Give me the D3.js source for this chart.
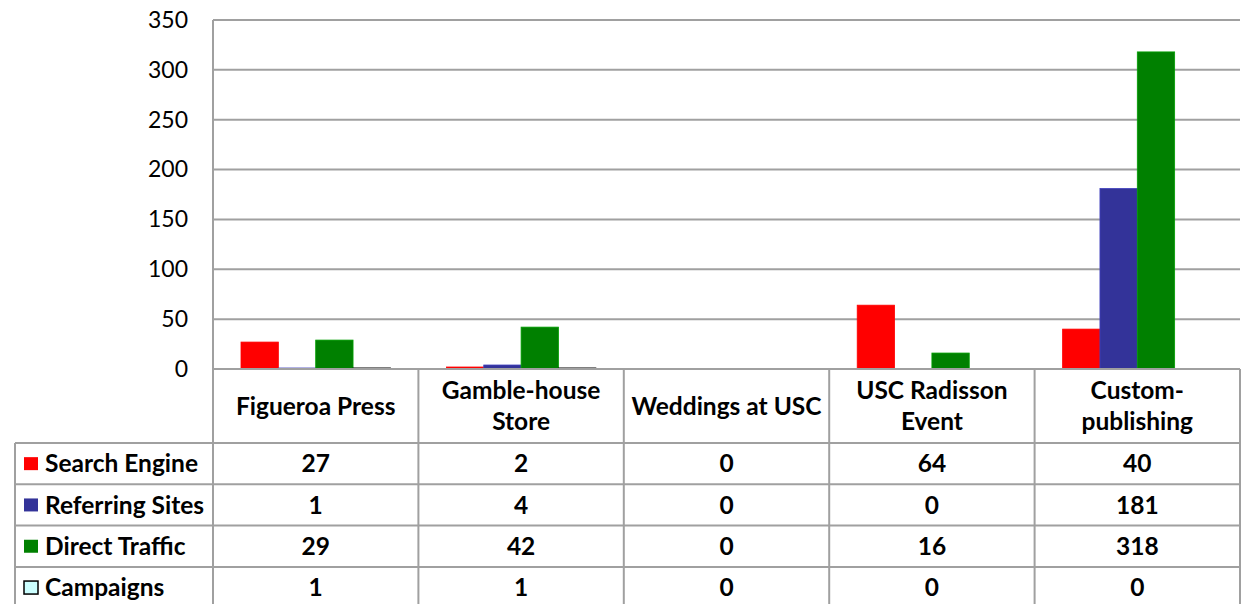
<!DOCTYPE html>
<html>
<head>
<meta charset="utf-8">
<script src="https://cdn.jsdelivr.net/npm/d3@7"></script>
<style>
  html, body { margin: 0; padding: 0; background: #fff; }
  svg { display: block; }
  text { font-family: Lato, "Open Sans", sans-serif; fill: #000; }
</style>
</head>
<body>
<svg id="chart" width="1241" height="604"></svg>
<script>
const categories = [["Figueroa Press"], ["Gamble-house", "Store"], ["Weddings at USC"], ["USC Radisson", "Event"], ["Custom-", "publishing"]];
const seriesNames = ["Search Engine", "Referring Sites", "Direct Traffic", "Campaigns"];
const seriesColors = ["#ff0000", "#333399", "#008000", "#ccffff"];
const searchEngine = [27, 2, 0, 64, 40];
const referringSites = [1, 4, 0, 0, 181];
const directTraffic = [29, 42, 0, 16, 318];
const campaigns = [1, 1, 0, 0, 0];
const yTicks = [0, 50, 100, 150, 200, 250, 300, 350];

const series = [searchEngine, referringSites, directTraffic, campaigns];

const svg = d3.select("#chart");
const plotLeft = 213, plotRight = 1240, plotTop = 20, plotBottom = 369;
const tableLeft = 15;
const headerBottom = 443;
const rowH = 41.3;
const gridColor = "#a0a0a0";

const x0 = d3.scaleBand().domain(d3.range(categories.length)).range([plotLeft, plotRight]).paddingInner(0).paddingOuter(0);
const x1 = d3.scaleBand().domain(d3.range(series.length)).range([0, x0.bandwidth()]).paddingInner(0).paddingOuter(0.75);
const y = d3.scaleLinear().domain([0, 350]).range([plotBottom, plotTop]);

// gridlines
svg.append("g").selectAll("line").data(yTicks).join("line")
  .attr("x1", plotLeft).attr("x2", plotRight)
  .attr("y1", d => y(d)).attr("y2", d => y(d))
  .attr("stroke", gridColor).attr("stroke-width", 2);

// y axis line
svg.append("line").attr("x1", plotLeft).attr("x2", plotLeft).attr("y1", plotTop).attr("y2", plotBottom)
  .attr("stroke", gridColor).attr("stroke-width", 2);

// y tick labels
const yAxis = d3.axisLeft(y).tickValues(yTicks).tickSize(0).tickPadding(25);
const gy = svg.append("g").attr("transform", `translate(${plotLeft},0)`).call(yAxis);
gy.select(".domain").remove();
gy.selectAll("text").attr("font-family", "Lato, sans-serif").attr("font-size", 23).attr("fill", "#000");

// bars
const barData = [];
series.forEach((vals, si) => vals.forEach((v, ci) => { if (v > 0) barData.push({si, ci, v}); }));
svg.append("g").selectAll("rect").data(barData).join("rect")
  .attr("x", d => x0(d.ci) + x1(d.si))
  .attr("width", x1.bandwidth())
  .attr("y", d => y(d.v))
  .attr("height", d => y(0) - y(d.v))
  .attr("fill", d => seriesColors[d.si])
  .attr("stroke", d => d.si === 3 ? "#000" : d3.color(seriesColors[d.si]).brighter(0.6))
  .attr("stroke-width", d => d.si === 3 ? 1 : 0.8);

// table grid
const tbl = svg.append("g");
const rowLines = d3.range(series.length + 1).map(i => headerBottom + i * rowH);
tbl.append("line").attr("x1", plotLeft).attr("x2", plotRight).attr("y1", plotBottom).attr("y2", plotBottom)
  .attr("stroke", gridColor).attr("stroke-width", 2);
tbl.selectAll("line.h").data(rowLines).join("line").attr("class", "h")
  .attr("x1", tableLeft).attr("x2", plotRight).attr("y1", d => d).attr("y2", d => d)
  .attr("stroke", gridColor).attr("stroke-width", 2);
const colEdges = d3.range(categories.length + 1).map(i => i < categories.length ? x0(i) : plotRight);
tbl.selectAll("line.v").data(colEdges).join("line").attr("class", "v")
  .attr("x1", d => d).attr("x2", d => d).attr("y1", plotBottom).attr("y2", 604)
  .attr("stroke", gridColor).attr("stroke-width", 2);
tbl.append("line").attr("x1", tableLeft).attr("x2", tableLeft).attr("y1", headerBottom).attr("y2", 604)
  .attr("stroke", gridColor).attr("stroke-width", 2);

// category labels
const fs = 24.5;
categories.forEach((lines, ci) => {
  const cx = x0(ci) + x0.bandwidth() / 2;
  const cy = (plotBottom + headerBottom) / 2;
  const lh = 31;
  const t = svg.append("text").attr("text-anchor", "middle").attr("font-weight", "bold").attr("font-size", fs);
  lines.forEach((ln, i) => {
    t.append("tspan").attr("x", cx).attr("y", cy + (i - (lines.length - 1) / 2) * lh).attr("dy", "0.35em").text(ln);
  });
});

// legend & values
series.forEach((vals, si) => {
  const cy = headerBottom + si * rowH + rowH / 2;
  svg.append("rect").attr("x", 24).attr("y", cy - 6.5).attr("width", 14).attr("height", 13)
    .attr("fill", seriesColors[si]).attr("stroke", si === 3 ? "#000" : "none").attr("stroke-width", 1.5);
  svg.append("text").attr("x", 45).attr("y", cy).attr("dy", "0.35em")
    .attr("font-weight", "bold").attr("font-size", fs).text(seriesNames[si]);
  vals.forEach((v, ci) => {
    svg.append("text").attr("x", x0(ci) + x0.bandwidth() / 2).attr("y", cy).attr("dy", "0.35em")
      .attr("text-anchor", "middle").attr("font-weight", "bold").attr("font-size", fs).text(v);
  });
});
</script>
</body>
</html>
